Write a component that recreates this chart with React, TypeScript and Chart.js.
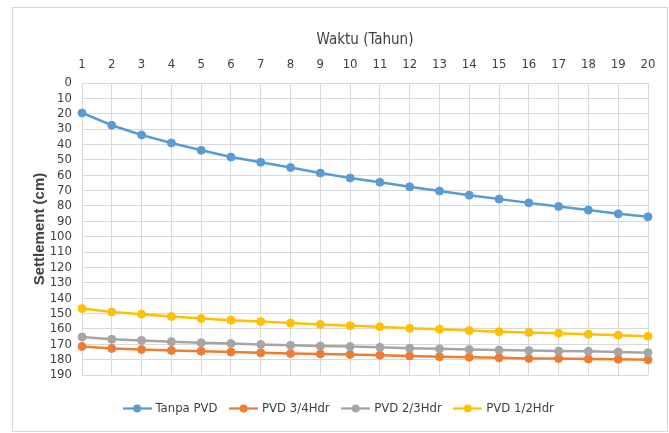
import React, { useEffect, useRef } from "react";
import { Chart, registerables } from "chart.js";

Chart.register(...registerables);

// Years on the horizontal (top) axis
const years = ["1", "2", "3", "4", "5", "6", "7", "8", "9", "10", "11", "12", "13", "14", "15", "16", "17", "18", "19", "20"];

// Settlement (cm) per year for each treatment
const tanpaPvd = [19.5, 27.5, 33.8, 39, 43.8, 48.2, 51.6, 55, 58.6, 61.8, 64.6, 67.5, 70.3, 73, 75.5, 78, 80.3, 82.7, 85.1, 87.1];
const pvd34 = [171.4, 172.7, 173.4, 174, 174.5, 175, 175.6, 176, 176.3, 176.6, 177.1, 177.6, 178.1, 178.4, 178.8, 179.2, 179.3, 179.6, 179.8, 180.1];
const pvd23 = [165.3, 166.8, 167.5, 168.3, 169, 169.5, 170.1, 170.7, 171.2, 171.5, 172, 172.6, 173, 173.4, 173.8, 174.1, 174.4, 174.6, 175, 175.5];
const pvd12 = [146.8, 149, 150.4, 151.9, 153.2, 154.3, 155.2, 156.2, 157.1, 157.9, 158.6, 159.6, 160.2, 161.1, 161.8, 162.3, 162.8, 163.5, 164.1, 164.8];

const seriesNames = ["Tanpa PVD", "PVD 3/4Hdr", "PVD 2/3Hdr", "PVD 1/2Hdr"];
const seriesColors = ["#5B9BD5", "#ED7D31", "#A5A5A5", "#FFC000"];

const FONT = "'Liberation Sans Narrow', 'Arial Narrow', 'DejaVu Sans Condensed', sans-serif";
const TEXT = "#404040";
const GRID = "#D9D9D9";

// Small line-with-dot swatch used in the legend
function legendSwatch(color: string): HTMLCanvasElement {
  const c = document.createElement("canvas");
  c.width = 29;
  c.height = 11;
  const g = c.getContext("2d")!;
  g.strokeStyle = color;
  g.lineWidth = 2.25;
  g.beginPath();
  g.moveTo(0, 5.5);
  g.lineTo(29, 5.5);
  g.stroke();
  g.fillStyle = color;
  g.beginPath();
  g.arc(14.5, 5.5, 4, 0, Math.PI * 2);
  g.fill();
  return c;
}

export default function App() {
  const canvasRef = useRef<HTMLCanvasElement | null>(null);

  useEffect(() => {
    const canvas = canvasRef.current;
    if (!canvas) return;
    const values = [tanpaPvd, pvd34, pvd23, pvd12];
    const swatches = seriesColors.map(legendSwatch);

    const chart = new Chart(canvas, {
      type: "line",
      data: {
        labels: years,
        datasets: values.map((v, i) => ({
          label: seriesNames[i],
          data: v,
          borderColor: seriesColors[i],
          backgroundColor: seriesColors[i],
          pointBackgroundColor: seriesColors[i],
          pointBorderColor: seriesColors[i],
          borderWidth: 2.5,
          pointRadius: 4,
          pointBorderWidth: 1,
          tension: 0,
          fill: false,
          // later series are painted over earlier ones
          order: values.length - i,
        })),
      },
      options: {
        responsive: false,
        animation: false,
        events: [],
        layout: { padding: { left: 31, right: 21, top: 0, bottom: 8 } },
        plugins: {
          tooltip: { enabled: false },
          legend: {
            display: true,
            position: "bottom",
            title: { display: true, text: "", font: { size: 1, lineHeight: 1 }, padding: { top: 12, bottom: 0 } },
            labels: {
              color: TEXT,
              font: { family: FONT, size: 13 },
              usePointStyle: true,
              pointStyleWidth: 24,
              padding: 14,
              generateLabels: (ch: any) => {
                const items = Chart.defaults.plugins.legend.labels.generateLabels(ch);
                items.sort((a: any, b: any) => a.datasetIndex - b.datasetIndex);
                return items.map((it: any) => ({ ...it, pointStyle: swatches[it.datasetIndex] }));
              },
            },
          },
        },
        scales: {
          x: {
            type: "category",
            position: "top",
            offset: false,
            grid: { color: GRID, lineWidth: 1, drawTicks: false },
            border: { display: true, color: GRID },
            ticks: { color: TEXT, font: { family: FONT, size: 13 }, padding: 11, maxRotation: 0, autoSkip: false },
            title: {
              display: true,
              text: "Waktu (Tahun)",
              color: TEXT,
              font: { family: FONT, size: 15 },
              padding: { top: 31, bottom: 0 },
            },
            afterFit: (s: any) => {
              s.height = 83;
            },
          },
          y: {
            type: "linear",
            reverse: true,
            min: 0,
            max: 190,
            grid: { color: GRID, lineWidth: 1, drawTicks: false },
            border: { display: true, color: GRID },
            ticks: { stepSize: 10, autoSkip: false, color: TEXT, font: { family: FONT, size: 13 }, padding: 10 },
            title: {
              display: true,
              text: "Settlement (cm)",
              color: TEXT,
              font: { family: "'Liberation Sans', Arial, sans-serif", size: 15, weight: "bold" },
              padding: { top: 0, bottom: 0 },
            },
            afterFit: (s: any) => {
              s.width = 51;
            },
          },
        },
      },
    } as any);

    return () => chart.destroy();
  }, []);

  return (
    <div style={{ position: "fixed", left: 0, top: 0, width: 669, height: 433, background: "#fff" }}>
      <div
        style={{
          position: "absolute",
          left: 12,
          top: 7,
          width: 656,
          height: 425,
          boxSizing: "border-box",
          border: "1px solid #D9D9D9",
        }}
      />
      <canvas ref={canvasRef} width={669} height={433} style={{ position: "absolute", left: 0, top: 0 }} />
    </div>
  );
}
